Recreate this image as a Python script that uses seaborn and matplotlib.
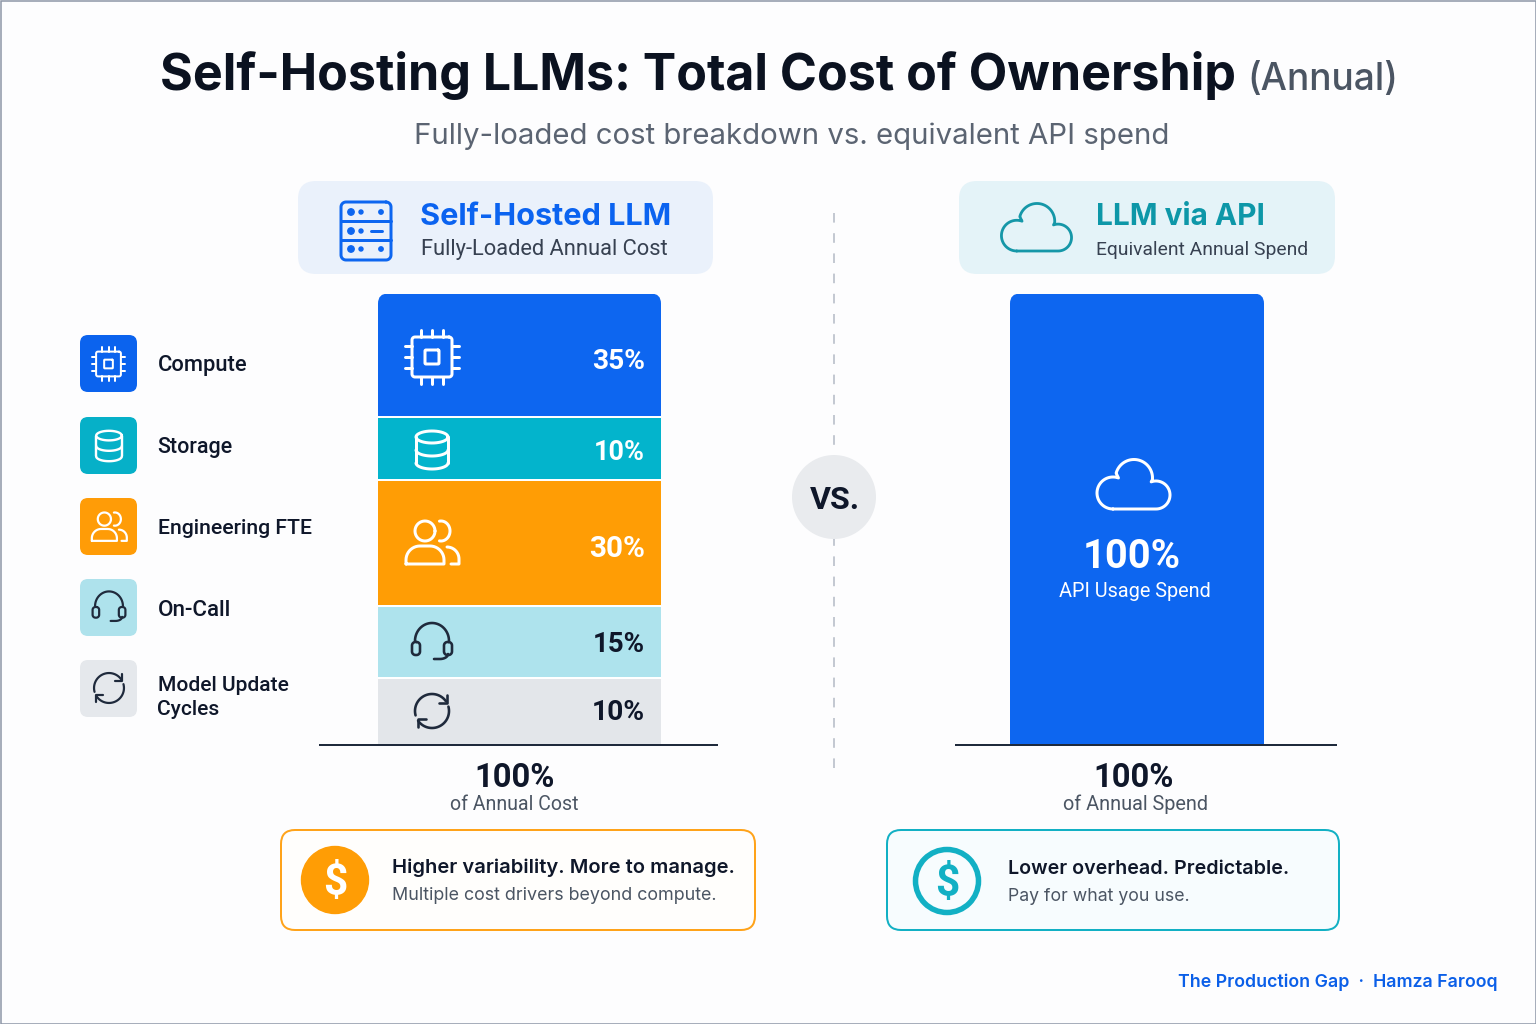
import matplotlib
matplotlib.use("Agg")

import matplotlib.pyplot as plt
import numpy as np
import seaborn as sns
from matplotlib.lines import Line2D
from matplotlib.patches import Circle, FancyBboxPatch, Rectangle

# the reference does not draw its segments to scale with their labels,
# so drawn share and printed label are kept apart
segment_names = ["Compute", "Storage", "Engineering FTE", "On-Call", "Model Update Cycles"]
segment_shares = [27.3, 14.0, 27.9, 16.0, 14.8]
segment_labels = ["35%", "10%", "30%", "15%", "10%"]
api_names = ["API Usage Spend"]
api_shares = [100]

BLUE = "#0d66f0"
TEAL = "#03b4cc"
ORANGE = "#ff9d05"
AQUA = "#aee3ed"
GREY = "#e3e6ea"
INK = "#0f172a"
MUTED = "#4b5563"
NARROW = "Roboto"
segment_colors = [BLUE, TEAL, ORANGE, AQUA, GREY]

W, H = 1536, 1024
PX = 72 / 100  # one pixel in points at dpi 100


def axes_px(fig, x0, y0, x1, y1, zorder):
    ax = fig.add_axes([x0 / W, 1 - y1 / H, (x1 - x0) / W, (y1 - y0) / H], zorder=zorder)
    return ax


def label(ax, x0, x1, base, s, color=INK, weight="normal", size=20, family=None):
    # sizes the text so it covers the same pixel span as in the reference
    t = ax.text(x0, base, s, color=color, fontweight=weight, fontsize=size, ha="left", va="baseline")
    if family:
        t.set_fontfamily(family)
    width = t.get_window_extent(ax.figure.canvas.get_renderer()).width
    t.set_fontsize(size * (x1 - x0) / width)
    return t


def box(ax, x0, y0, x1, y1, r, face, edge="none", lw=0, zorder=2):
    p = FancyBboxPatch((x0, y0), x1 - x0, y1 - y0, boxstyle=f"round,pad=0,rounding_size={r}",
                       facecolor=face, edgecolor=edge, linewidth=lw * PX, zorder=zorder)
    ax.add_patch(p)
    return p


def stroke(ax, cx, cy, s, pts, color, lw):
    pts = np.asarray(pts, dtype=float)
    ax.add_line(Line2D(cx + s * pts[:, 0], cy + s * pts[:, 1], color=color, linewidth=lw * PX,
                       solid_capstyle="round", solid_joinstyle="round", zorder=5))


def arc(cx, cy, rx, ry, a0, a1, n=40):
    a = np.radians(np.linspace(a0, a1, n))
    return np.column_stack([cx + rx * np.cos(a), cy - ry * np.sin(a)])


def rrect(x0, y0, x1, y1, r):
    return np.vstack([
        arc(x1 - r, y0 + r, r, r, 90, 0, 10),
        arc(x1 - r, y1 - r, r, r, 0, -90, 10),
        arc(x0 + r, y1 - r, r, r, -90, -180, 10),
        arc(x0 + r, y0 + r, r, r, 180, 90, 10),
        [[x1 - r, y0]],
    ])


def chip(ax, cx, cy, s, color, lw):
    stroke(ax, cx, cy, s, rrect(-20, -20, 20, 20, 3), color, lw)
    stroke(ax, cx, cy, s, rrect(-7, -7, 7, 7, 1), color, lw)
    for o in (-11, 0, 11):
        stroke(ax, cx, cy, s, [[o, -27], [o, -20]], color, lw)
        stroke(ax, cx, cy, s, [[o, 20], [o, 27]], color, lw)
        stroke(ax, cx, cy, s, [[-27, o], [-20, o]], color, lw)
        stroke(ax, cx, cy, s, [[20, o], [27, o]], color, lw)


def database(ax, cx, cy, s, color, lw):
    stroke(ax, cx, cy, s, arc(0, -13, 16, 6, 0, 360), color, lw)
    stroke(ax, cx, cy, s, [[-16, -13], [-16, 13]], color, lw)
    stroke(ax, cx, cy, s, [[16, -13], [16, 13]], color, lw)
    stroke(ax, cx, cy, s, arc(0, 0, 16, 6, 180, 360), color, lw)
    stroke(ax, cx, cy, s, arc(0, 13, 16, 6, 180, 360), color, lw)


def people(ax, cx, cy, s, color, lw):
    stroke(ax, cx, cy, s, arc(-7, -12, 10, 10, 0, 360), color, lw)
    stroke(ax, cx, cy, s, arc(9, -12, 9, 10, 100, -100), color, lw)
    body = np.vstack([[[-26, 21]], arc(-12, 17, 14, 14, 180, 90, 12), arc(-2, 17, 14, 14, 90, 0, 12),
                      [[12, 21], [-26, 21]]])
    stroke(ax, cx, cy, s, body, color, lw)
    stroke(ax, cx, cy, s, np.vstack([arc(15, 16, 12, 12, 90, 0, 12), [[27, 21], [19, 21]]]), color, lw)


def headset(ax, cx, cy, s, color, lw):
    stroke(ax, cx, cy, s, arc(0, -1, 17, 18, 180, 0), color, lw)
    stroke(ax, cx, cy, s, rrect(-20, 0, -12, 13, 3.5), color, lw)
    stroke(ax, cx, cy, s, rrect(12, 0, 20, 13, 3.5), color, lw)
    stroke(ax, cx, cy, s, np.vstack([arc(8, 12, 8, 5, 0, -90, 10), [[2, 17]]]), color, lw)


def sync(ax, cx, cy, s, color, lw):
    stroke(ax, cx, cy, s, arc(0, 0, 17, 17, 195, 35), color, lw)
    stroke(ax, cx, cy, s, [[14.5, -16], [14.5, -8], [6.5, -8]], color, lw)
    stroke(ax, cx, cy, s, arc(0, 0, 17, 17, 15, -145), color, lw)
    stroke(ax, cx, cy, s, [[-14.5, 16], [-14.5, 8], [-6.5, 8]], color, lw)


def cloud(ax, cx, cy, s, color, lw):
    pts = np.vstack([arc(-20, 9, 16, 16, 270, 70), arc(1, -6, 18.5, 18.5, 165, -5),
                     arc(23, 11, 14, 14, 110, -90), [[-20, 25]]])
    stroke(ax, cx, cy, s, pts, color, lw)


def server(ax, cx, cy, s, color, lw):
    stroke(ax, cx, cy, s, rrect(-25, -29, 25, 29, 5), color, lw)
    stroke(ax, cx, cy, s, [[-25, -10], [25, -10]], color, lw)
    stroke(ax, cx, cy, s, [[-25, 9], [25, 9]], color, lw)
    for y, r in ((-19, 3.2), (0, 3.2), (18, 3.2)):
        ax.add_patch(Circle((cx - 15, cy + y), r, color=color, zorder=5))
        ax.add_patch(Circle((cx - 5, cy + y), 2, color=color, zorder=5))
    ax.add_patch(Circle((cx + 15, cy - 19), 2.2, color=color, zorder=5))
    ax.add_patch(Circle((cx + 15, cy + 18), 2.2, color=color, zorder=5))
    stroke(ax, cx, cy, s, [[5, 0], [16, 0]], color, lw)


def main():
    sns.set_theme(style="white")
    plt.rcParams["font.family"] = ["Inter", "DejaVu Sans"]

    fig = plt.figure(figsize=(W / 100, H / 100), dpi=100, facecolor="#fdfdfe")

    bg = axes_px(fig, 0, 0, W, H, 0)
    top = axes_px(fig, 0, 0, W, H, 3)
    for ax in (bg, top):
        ax.set_xlim(0, W)
        ax.set_ylim(H, 0)
        ax.axis("off")

    bg.add_patch(Rectangle((0.5, 0.5), W - 1, H - 1, fill=False, edgecolor="#8b95a5", linewidth=1.5 * PX))

    # header panels
    box(bg, 298, 181, 713, 274, 18, "#eaf1fb")
    box(bg, 959, 181, 1335, 274, 18, "#e4f3f8")

    # stacked bar, left
    left = axes_px(fig, 319, 293.5, 718, 745, 1)
    bottoms = np.concatenate([[0], np.cumsum(segment_shares[::-1])[:-1]])[::-1]
    for name, share, start, color in zip(segment_names, segment_shares, bottoms, segment_colors):
        sns.barplot(x=["Self-Hosted"], y=[share], bottom=start, color=color, saturation=1,
                    width=283 / 399, linewidth=0, ax=left)
    left.set_xlim(-200.5 / 399, 198.5 / 399)
    # thin white gaps between the segments
    left.hlines(bottoms[:-1], -141.5 / 399, 141.5 / 399, color="white", linewidth=2 * PX, zorder=4)

    # single bar, right
    right = axes_px(fig, 955, 293.5, 1337, 745, 1)
    sns.barplot(x=["API"], y=api_shares, color=BLUE, saturation=1, width=254 / 382, linewidth=0, ax=right)
    right.set_xlim(-182 / 382, 200 / 382)

    for ax, x0, x1 in ((left, 378, 661), (right, 1010, 1264)):
        ax.set_ylim(0, 100)
        ax.set_xlabel("")
        ax.set_ylabel("")
        ax.set_xticks([])
        ax.set_yticks([])
        ax.patch.set_visible(False)
        sns.despine(ax=ax, left=True, top=True, right=True)
        ax.spines["bottom"].set_color("#1f2a3c")
        ax.spines["bottom"].set_linewidth(2 * PX)
        ax.spines["bottom"].set_capstyle("butt")
        # rounded top corners only, the bottom of the clip sits under the baseline
        clip = FancyBboxPatch((x0, 293.5), x1 - x0, 480, boxstyle="round,pad=0,rounding_size=10",
                              transform=top.transData)
        for p in ax.patches:
            p.set_clip_path(clip)

    # divider
    bg.plot([833.5, 833.5], [213, 768], color="#c4c9d2", linewidth=2 * PX, dashes=(4.8, 5.3))
    top.add_patch(Circle((834, 497), 42, facecolor="#e9ebee", edgecolor="none", zorder=3))

    # legend tiles
    tile_tops = [335, 417, 498, 579, 660]
    tile_colors = ["#0b63ee", "#06b0c8", "#ff9c07", "#aee2ec", "#e5e8ec"]
    for y, c in zip(tile_tops, tile_colors):
        box(bg, 80, y, 137, y + 57, 8, c)

    # callouts
    box(bg, 281, 830, 755, 930, 14, "#fffefc", "#ffa31a", 2)
    box(bg, 887, 830, 1339, 930, 14, "#f7fcfe", "#12b0c4", 2)
    bg.add_patch(Circle((335, 880), 33.5, color="#ff9d05", zorder=4))
    bg.add_patch(Circle((947, 881), 31.5, facecolor="none", edgecolor="#12b0c4", linewidth=5.5 * PX, zorder=4))

    # icons
    chip(top, 432, 357, 1, "white", 3)
    database(top, 432, 450, 1, "white", 3)
    people(top, 432, 543, 1, "white", 3)
    headset(top, 432, 642, 1, "#1f2a3c", 2.6)
    sync(top, 432, 711, 1, "#1f2a3c", 2.6)
    chip(top, 108.5, 364, 0.62, "white", 2)
    database(top, 109, 446, 0.8, "white", 2.4)
    people(top, 109, 527, 0.66, "white", 2.2)
    headset(top, 109, 607, 0.82, "#1f2a3c", 2.2)
    sync(top, 109, 688, 0.88, "#1f2a3c", 2.2)
    server(top, 366, 231, 1, BLUE, 3)
    cloud(top, 1036, 227, 0.96, "#1597a8", 2.8)
    cloud(top, 1133, 484, 1.0, "white", 3)

    # titles
    label(top, 160, 1236, 90, "Self-Hosting LLMs: Total Cost of Ownership", "#0b1220", "bold", 40)
    label(top, 1247, 1398, 90, "(Annual)", MUTED, "medium", 28)
    label(top, 414, 1170, 144, "Fully-loaded cost breakdown vs. equivalent API spend", "#5b6472", "normal", 22)

    label(top, 420, 671, 225, "Self-Hosted LLM", "#0b63f0", "bold", 23)
    label(top, 421, 669, 255, "Fully-Loaded Annual Cost", "#374151", "normal", 15, NARROW)
    label(top, 1096, 1265, 225, "LLM via API", "#0d97a8", "bold", 23)
    label(top, 1096, 1309, 255, "Equivalent Annual Spend", "#374151", "normal", 14, NARROW)

    # legend text
    label(top, 157.5, 247, 371, "Compute", INK, "medium", 15, NARROW)
    label(top, 157.5, 233, 453, "Storage", INK, "medium", 15, NARROW)
    label(top, 157.5, 313, 534, "Engineering FTE", INK, "medium", 15, NARROW)
    label(top, 157.5, 231, 616, "On-Call", INK, "medium", 15, NARROW)
    label(top, 157.5, 289, 691, "Model Update", INK, "medium", 15, NARROW)
    label(top, 157.5, 220, 715, "Cycles", INK, "medium", 15, NARROW)

    # segment labels
    label(top, 592, 645, 369, segment_labels[0], "white", "bold", 18, NARROW)
    label(top, 594, 645, 460, segment_labels[1], "white", "bold", 18, NARROW)
    label(top, 589, 645, 557, segment_labels[2], "white", "bold", 18, NARROW)
    label(top, 593, 645, 652, segment_labels[3], INK, "bold", 18, NARROW)
    label(top, 592, 645, 720, segment_labels[4], INK, "bold", 18, NARROW)

    label(top, 474.5, 555, 787, "100%", INK, "bold", 21, NARROW)
    label(top, 450, 579, 810, "of Annual Cost", MUTED, "normal", 14, NARROW)
    label(top, 1093.5, 1174, 787, "100%", INK, "bold", 21, NARROW)
    label(top, 1063, 1209, 810, "of Annual Spend", MUTED, "normal", 14, NARROW)

    label(top, 810, 860, 509, "VS.", INK, "bold", 22, NARROW)
    label(top, 1083, 1181, 568, "100%", "white", "bold", 26, NARROW)
    label(top, 1059, 1212, 597, api_names[0], "white", "normal", 14, NARROW)

    # callout text
    label(top, 392, 735, 873, "Higher variability. More to manage.", INK, "semibold", 15)
    label(top, 392, 718, 900, "Multiple cost drivers beyond compute.", MUTED, "normal", 14)
    label(top, 1008, 1288, 874, "Lower overhead. Predictable.", INK, "semibold", 15)
    label(top, 1008, 1190, 901, "Pay for what you use.", MUTED, "normal", 14)
    label(top, 323, 347.5, 895, "$", "white", "bold", 34, NARROW)
    label(top, 935, 959.5, 896, "$", "#12b0c4", "bold", 34, NARROW)

    label(top, 1178, 1497, 987, "The Production Gap  ·  Hamza Farooq", "#0b5fe8", "semibold", 14)

    fig.savefig("out.png", dpi=100, facecolor=fig.get_facecolor())
    plt.close(fig)


if __name__ == "__main__":
    main()
